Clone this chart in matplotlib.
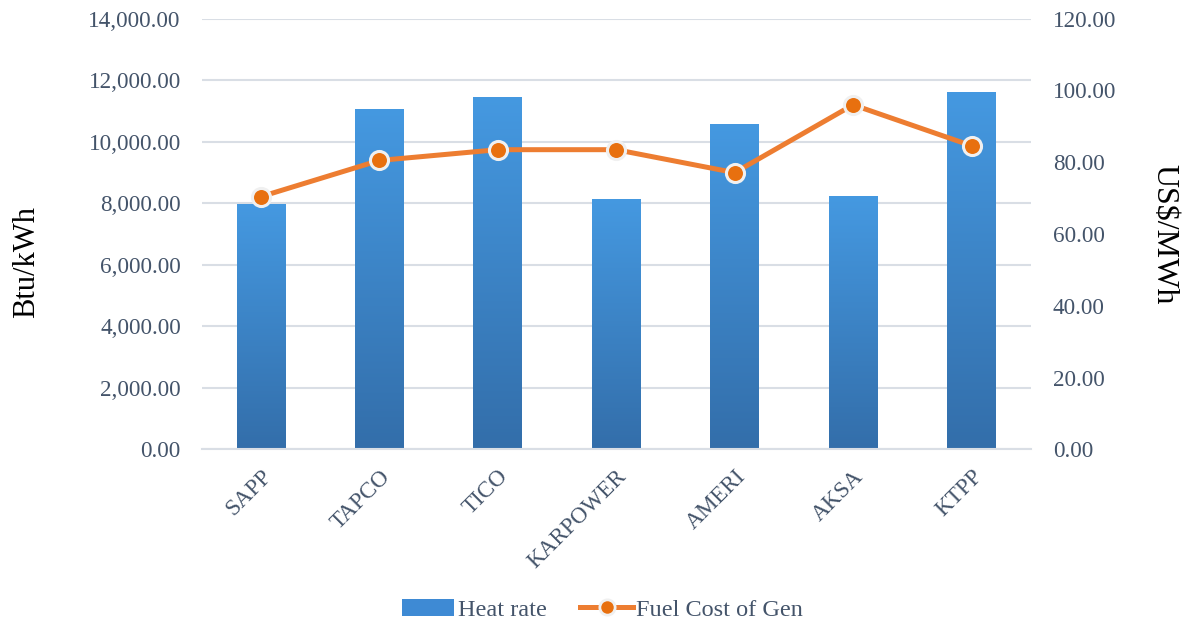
import numpy as np
import matplotlib.pyplot as plt
from matplotlib.patches import Patch
from matplotlib.lines import Line2D
from matplotlib.colors import LinearSegmentedColormap

plants = ["SAPP", "TAPCO", "TICO", "KARPOWER", "AMERI", "AKSA", "KTPP"]
heat_rate = [7990, 11070, 11460, 8150, 10590, 8220, 11630]
fuel_cost = [70.4, 80.5, 83.5, 83.5, 77.1, 96.0, 84.6]

TEXT = "#44546A"
GRID = "#D9DEE5"
ORANGE = "#ED7D31"

plt.rcParams.update({
    "font.family": ["Liberation Serif", "DejaVu Serif"],
})

fig = plt.figure(figsize=(11.93, 6.24), dpi=100)
ax = fig.add_axes([0.169, 0.28, 0.695, 0.69])
ax2 = ax.twinx()

x = np.arange(len(plants))
bars = ax.bar(x, heat_rate, width=0.41, color="#3E8AD4", zorder=2)

# vertical gradient in each bar
cmap = LinearSegmentedColormap.from_list("barblue", ["#336EAA", "#4599E1"])
grad = np.linspace(0, 1, 256).reshape(-1, 1)
for b in bars:
    x0, w, h = b.get_x(), b.get_width(), b.get_height()
    im = ax.imshow(grad, cmap=cmap, origin="lower", aspect="auto",
                   extent=(x0, x0 + w, 0, h), zorder=2.1)
    im.set_clip_path(b)

ax.set_xlim(-0.5, len(plants) - 0.5)
ax.set_ylim(0, 14000)
ax.set_yticks(np.arange(0, 14001, 2000))
ax.set_yticklabels([f"{v:,.2f}" for v in np.arange(0, 14001, 2000)])
ax.grid(axis="y", color=GRID, linewidth=1.5, zorder=0)
ax.set_axisbelow(True)
ax.set_xticks(x)
ax.set_xticklabels(plants, rotation=45, ha="right", rotation_mode="anchor")
ax.tick_params(axis="x", length=0, pad=12, labelsize=16.7, labelcolor=TEXT)
ax.tick_params(axis="y", length=0, pad=15, labelsize=16.7, labelcolor=TEXT)
for s in ["top", "right", "left"]:
    ax.spines[s].set_visible(False)
ax.spines["bottom"].set_color(GRID)
ax.spines["bottom"].set_linewidth(1.5)
ax.set_ylabel("Btu/kWh", fontsize=22, color="black", labelpad=34, y=0.435)

ax2.plot(x, fuel_cost, color=ORANGE, linewidth=3.6, marker="o",
         markersize=13, markerfacecolor="#E8700F", markeredgecolor="#F0F0F0",
         markeredgewidth=2.2, zorder=3)
ax2.set_ylim(0, 120)
ax2.set_yticks(np.arange(0, 121, 20))
ax2.set_yticklabels([f"{v:.2f}" for v in np.arange(0, 121, 20)])
ax2.tick_params(axis="y", length=0, pad=16, labelsize=16.7, labelcolor=TEXT)
for s in ax2.spines.values():
    s.set_visible(False)
ax2.set_ylabel("US$/MWh", fontsize=23, color="black", rotation=270, labelpad=45)

handles = [
    Patch(facecolor="#3E8AD4", edgecolor="none"),
    Line2D([0], [0], color=ORANGE, linewidth=3.6, marker="o", markersize=11,
           markerfacecolor="#E8700F", markeredgecolor="#F0F0F0", markeredgewidth=2),
]
leg = fig.legend(handles, ["Heat rate", "Fuel Cost of Gen"], loc="lower center",
                 bbox_to_anchor=(0.505, -0.03), ncol=2, frameon=False, fontsize=17.5,
                 handlelength=2.15, handletextpad=0.15, columnspacing=1.4)
for t in leg.get_texts():
    t.set_color(TEXT)

fig.savefig("out.png", dpi=100)
